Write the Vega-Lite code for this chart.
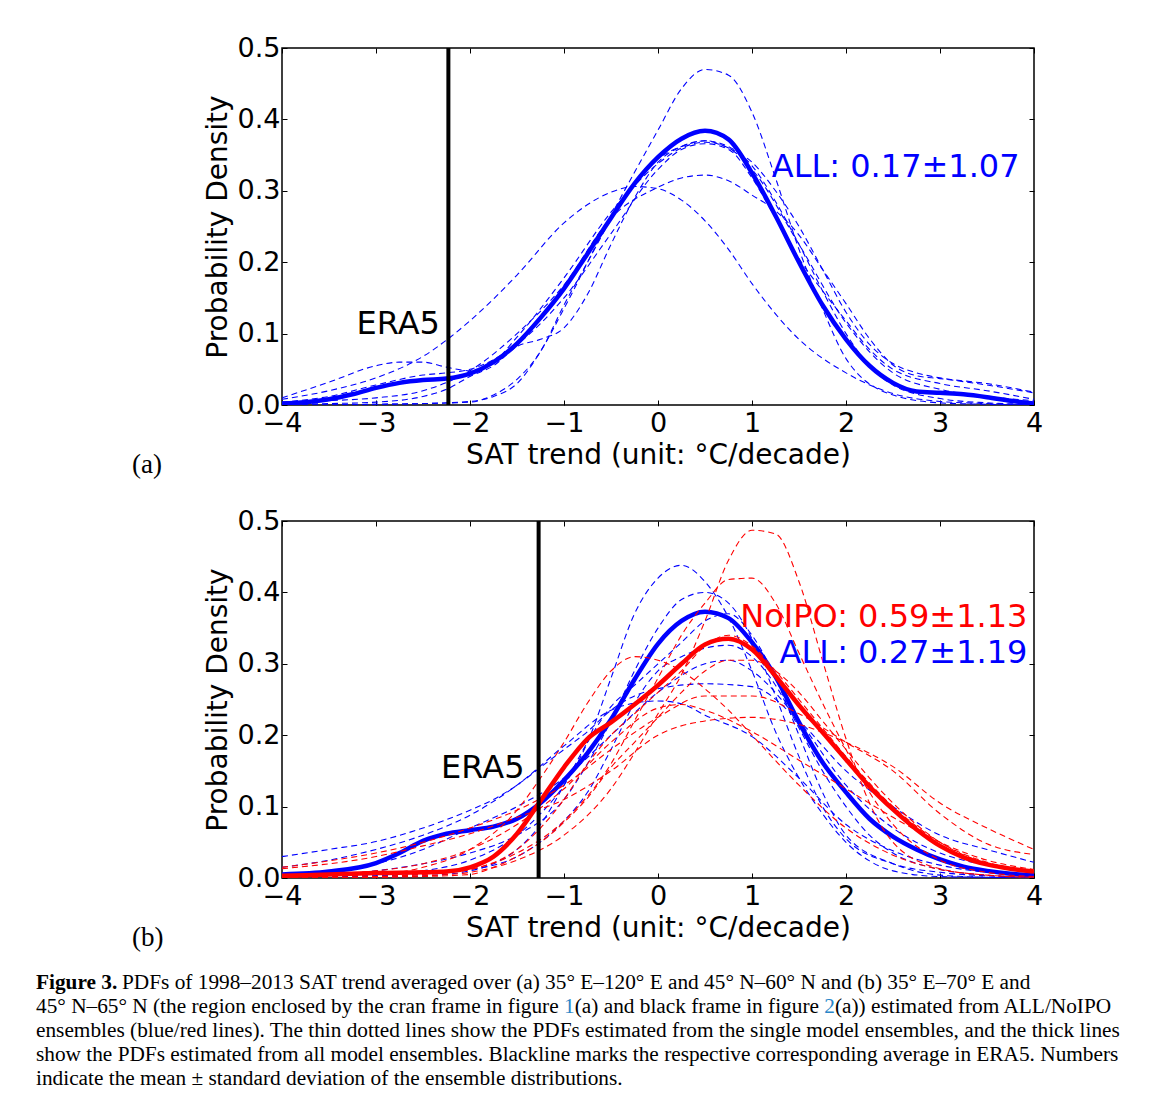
{
"$schema": "https://vega.github.io/schema/vega-lite/v6.json",
"background": "white",
"padding": {"left": 36, "top": 33, "right": 5, "bottom": 5},
"spacing": 18,
"config": {
  "view": {"stroke": "black", "strokeWidth": 1.5},
  "axis": {"domain": false, "grid": false, "ticks": true, "tickColor": "black", "tickWidth": 1, "tickSize": -5,
           "labelFont": "DejaVu Sans", "labelFontSize": 27, "labelColor": "black", "labelFlush": false, "labelOverlap": false,
           "titleFont": "DejaVu Sans", "titleFontSize": 28, "titleFontWeight": "normal", "titleColor": "black", "titlePadding": 5}
},
"datasets": {
"a_thin": [
{"c":"A1","x":-4,"y":0},{"c":"A1","x":-3.5,"y":0},{"c":"A1","x":-3,"y":0.001},{"c":"A1","x":-2.5,"y":0.002},{"c":"A1","x":-2,"y":0.005},{"c":"A1","x":-1.75,"y":0.012},{"c":"A1","x":-1.5,"y":0.03},{"c":"A1","x":-1.25,"y":0.075},{"c":"A1","x":-1,"y":0.135},{"c":"A1","x":-0.5,"y":0.265},{"c":"A1","x":0,"y":0.385},{"c":"A1","x":0.25,"y":0.443},{"c":"A1","x":0.5,"y":0.47},{"c":"A1","x":0.75,"y":0.462},{"c":"A1","x":1,"y":0.41},{"c":"A1","x":1.25,"y":0.318},{"c":"A1","x":1.5,"y":0.218},{"c":"A1","x":1.75,"y":0.135},{"c":"A1","x":2,"y":0.065},{"c":"A1","x":2.5,"y":0.014},{"c":"A1","x":3,"y":0.003},{"c":"A1","x":3.5,"y":0.001},{"c":"A1","x":4,"y":0},
{"c":"A2","x":-4,"y":0.008},{"c":"A2","x":-3.5,"y":0.02},{"c":"A2","x":-3,"y":0.038},{"c":"A2","x":-2.5,"y":0.068},{"c":"A2","x":-2,"y":0.118},{"c":"A2","x":-1.5,"y":0.182},{"c":"A2","x":-1,"y":0.255},{"c":"A2","x":-0.5,"y":0.298},{"c":"A2","x":-0.25,"y":0.306},{"c":"A2","x":0,"y":0.303},{"c":"A2","x":0.25,"y":0.287},{"c":"A2","x":0.5,"y":0.258},{"c":"A2","x":0.75,"y":0.218},{"c":"A2","x":1,"y":0.17},{"c":"A2","x":1.5,"y":0.092},{"c":"A2","x":2,"y":0.045},{"c":"A2","x":2.5,"y":0.016},{"c":"A2","x":3,"y":0.005},{"c":"A2","x":3.5,"y":0.002},{"c":"A2","x":4,"y":0},
{"c":"A3","x":-4,"y":0.003},{"c":"A3","x":-3.5,"y":0.006},{"c":"A3","x":-3,"y":0.01},{"c":"A3","x":-2.5,"y":0.02},{"c":"A3","x":-2,"y":0.048},{"c":"A3","x":-1.5,"y":0.1},{"c":"A3","x":-1,"y":0.168},{"c":"A3","x":-0.5,"y":0.262},{"c":"A3","x":0,"y":0.305},{"c":"A3","x":0.25,"y":0.318},{"c":"A3","x":0.5,"y":0.322},{"c":"A3","x":0.75,"y":0.314},{"c":"A3","x":1,"y":0.294},{"c":"A3","x":1.25,"y":0.272},{"c":"A3","x":1.5,"y":0.238},{"c":"A3","x":1.75,"y":0.19},{"c":"A3","x":2,"y":0.142},{"c":"A3","x":2.25,"y":0.093},{"c":"A3","x":2.5,"y":0.056},{"c":"A3","x":2.75,"y":0.041},{"c":"A3","x":3,"y":0.037},{"c":"A3","x":3.5,"y":0.028},{"c":"A3","x":4,"y":0.017},
{"c":"A4","x":-4,"y":0.01},{"c":"A4","x":-3.5,"y":0.032},{"c":"A4","x":-3,"y":0.055},{"c":"A4","x":-2.75,"y":0.06},{"c":"A4","x":-2.5,"y":0.06},{"c":"A4","x":-2.25,"y":0.053},{"c":"A4","x":-2,"y":0.048},{"c":"A4","x":-1.75,"y":0.06},{"c":"A4","x":-1.5,"y":0.095},{"c":"A4","x":-1,"y":0.178},{"c":"A4","x":-0.5,"y":0.27},{"c":"A4","x":0,"y":0.338},{"c":"A4","x":0.25,"y":0.36},{"c":"A4","x":0.5,"y":0.368},{"c":"A4","x":0.75,"y":0.36},{"c":"A4","x":1,"y":0.33},{"c":"A4","x":1.5,"y":0.225},{"c":"A4","x":2,"y":0.115},{"c":"A4","x":2.5,"y":0.045},{"c":"A4","x":3,"y":0.022},{"c":"A4","x":3.5,"y":0.012},{"c":"A4","x":4,"y":0.006},
{"c":"A5","x":-4,"y":0},{"c":"A5","x":-3,"y":0.001},{"c":"A5","x":-2.5,"y":0.002},{"c":"A5","x":-2,"y":0.004},{"c":"A5","x":-1.75,"y":0.014},{"c":"A5","x":-1.5,"y":0.036},{"c":"A5","x":-1.25,"y":0.075},{"c":"A5","x":-1,"y":0.14},{"c":"A5","x":-0.75,"y":0.2},{"c":"A5","x":-0.5,"y":0.26},{"c":"A5","x":-0.25,"y":0.31},{"c":"A5","x":0,"y":0.345},{"c":"A5","x":0.25,"y":0.362},{"c":"A5","x":0.5,"y":0.37},{"c":"A5","x":0.75,"y":0.362},{"c":"A5","x":1,"y":0.335},{"c":"A5","x":1.25,"y":0.285},{"c":"A5","x":1.5,"y":0.225},{"c":"A5","x":1.75,"y":0.16},{"c":"A5","x":2,"y":0.1},{"c":"A5","x":2.25,"y":0.055},{"c":"A5","x":2.5,"y":0.028},{"c":"A5","x":3,"y":0.009},{"c":"A5","x":3.5,"y":0.003},{"c":"A5","x":4,"y":0.001},
{"c":"A6","x":-4,"y":0.001},{"c":"A6","x":-3.5,"y":0.002},{"c":"A6","x":-3,"y":0.004},{"c":"A6","x":-2.5,"y":0.012},{"c":"A6","x":-2.25,"y":0.022},{"c":"A6","x":-2,"y":0.04},{"c":"A6","x":-1.75,"y":0.055},{"c":"A6","x":-1.5,"y":0.082},{"c":"A6","x":-1.25,"y":0.092},{"c":"A6","x":-1,"y":0.108},{"c":"A6","x":-0.75,"y":0.155},{"c":"A6","x":-0.5,"y":0.225},{"c":"A6","x":-0.25,"y":0.29},{"c":"A6","x":0,"y":0.34},{"c":"A6","x":0.25,"y":0.362},{"c":"A6","x":0.5,"y":0.37},{"c":"A6","x":0.75,"y":0.36},{"c":"A6","x":1,"y":0.34},{"c":"A6","x":1.25,"y":0.3},{"c":"A6","x":1.5,"y":0.25},{"c":"A6","x":1.75,"y":0.19},{"c":"A6","x":2,"y":0.13},{"c":"A6","x":2.25,"y":0.085},{"c":"A6","x":2.5,"y":0.058},{"c":"A6","x":2.75,"y":0.045},{"c":"A6","x":3,"y":0.038},{"c":"A6","x":3.5,"y":0.03},{"c":"A6","x":4,"y":0.018},
{"c":"A7","x":-4,"y":0.004},{"c":"A7","x":-3.5,"y":0.012},{"c":"A7","x":-3,"y":0.028},{"c":"A7","x":-2.5,"y":0.042},{"c":"A7","x":-2.25,"y":0.045},{"c":"A7","x":-2,"y":0.05},{"c":"A7","x":-1.5,"y":0.085},{"c":"A7","x":-1,"y":0.15},{"c":"A7","x":-0.5,"y":0.24},{"c":"A7","x":0,"y":0.33},{"c":"A7","x":0.25,"y":0.358},{"c":"A7","x":0.5,"y":0.366},{"c":"A7","x":0.75,"y":0.358},{"c":"A7","x":1,"y":0.318},{"c":"A7","x":1.25,"y":0.262},{"c":"A7","x":1.5,"y":0.205},{"c":"A7","x":1.75,"y":0.16},{"c":"A7","x":2,"y":0.118},{"c":"A7","x":2.25,"y":0.078},{"c":"A7","x":2.5,"y":0.05},{"c":"A7","x":3,"y":0.03},{"c":"A7","x":3.5,"y":0.02},{"c":"A7","x":4,"y":0.008}
],
"a_thick": [
{"x":-4,"y":0.002},{"x":-3.75,"y":0.004},{"x":-3.5,"y":0.008},{"x":-3.25,"y":0.015},{"x":-3,"y":0.024},{"x":-2.75,"y":0.031},{"x":-2.5,"y":0.035},{"x":-2.25,"y":0.037},{"x":-2,"y":0.044},{"x":-1.75,"y":0.06},{"x":-1.5,"y":0.086},{"x":-1.25,"y":0.122},{"x":-1,"y":0.163},{"x":-0.75,"y":0.212},{"x":-0.5,"y":0.262},{"x":-0.25,"y":0.31},{"x":0,"y":0.347},{"x":0.25,"y":0.373},{"x":0.5,"y":0.384},{"x":0.75,"y":0.372},{"x":1,"y":0.325},{"x":1.25,"y":0.265},{"x":1.5,"y":0.2},{"x":1.75,"y":0.14},{"x":2,"y":0.092},{"x":2.25,"y":0.055},{"x":2.5,"y":0.031},{"x":2.75,"y":0.019},{"x":3,"y":0.017},{"x":3.25,"y":0.015},{"x":3.5,"y":0.011},{"x":3.75,"y":0.006},{"x":4,"y":0.002}
],
"b_blue_thin": [
{"c":"B1","x":-4,"y":0.001},{"c":"B1","x":-3,"y":0.004},{"c":"B1","x":-2.5,"y":0.01},{"c":"B1","x":-2,"y":0.025},{"c":"B1","x":-1.5,"y":0.06},{"c":"B1","x":-1.25,"y":0.09},{"c":"B1","x":-1,"y":0.13},{"c":"B1","x":-0.75,"y":0.19},{"c":"B1","x":-0.5,"y":0.28},{"c":"B1","x":-0.25,"y":0.37},{"c":"B1","x":0,"y":0.42},{"c":"B1","x":0.25,"y":0.438},{"c":"B1","x":0.5,"y":0.415},{"c":"B1","x":0.75,"y":0.365},{"c":"B1","x":1,"y":0.29},{"c":"B1","x":1.25,"y":0.205},{"c":"B1","x":1.5,"y":0.14},{"c":"B1","x":1.75,"y":0.09},{"c":"B1","x":2,"y":0.05},{"c":"B1","x":2.25,"y":0.024},{"c":"B1","x":2.5,"y":0.01},{"c":"B1","x":3,"y":0.002},{"c":"B1","x":3.5,"y":0.001},{"c":"B1","x":4,"y":0},
{"c":"B2","x":-4,"y":0.002},{"c":"B2","x":-3,"y":0.01},{"c":"B2","x":-2.5,"y":0.02},{"c":"B2","x":-2,"y":0.035},{"c":"B2","x":-1.5,"y":0.06},{"c":"B2","x":-1,"y":0.11},{"c":"B2","x":-0.75,"y":0.16},{"c":"B2","x":-0.5,"y":0.22},{"c":"B2","x":-0.25,"y":0.29},{"c":"B2","x":0,"y":0.35},{"c":"B2","x":0.25,"y":0.39},{"c":"B2","x":0.5,"y":0.4},{"c":"B2","x":0.75,"y":0.385},{"c":"B2","x":1,"y":0.335},{"c":"B2","x":1.25,"y":0.255},{"c":"B2","x":1.5,"y":0.17},{"c":"B2","x":1.75,"y":0.1},{"c":"B2","x":2,"y":0.055},{"c":"B2","x":2.5,"y":0.02},{"c":"B2","x":3,"y":0.008},{"c":"B2","x":3.5,"y":0.003},{"c":"B2","x":4,"y":0.001},
{"c":"B3","x":-4,"y":0.001},{"c":"B3","x":-3,"y":0.003},{"c":"B3","x":-2,"y":0.012},{"c":"B3","x":-1.5,"y":0.03},{"c":"B3","x":-1,"y":0.08},{"c":"B3","x":-0.75,"y":0.12},{"c":"B3","x":-0.5,"y":0.18},{"c":"B3","x":-0.25,"y":0.245},{"c":"B3","x":0,"y":0.29},{"c":"B3","x":0.25,"y":0.31},{"c":"B3","x":0.5,"y":0.322},{"c":"B3","x":0.75,"y":0.326},{"c":"B3","x":1,"y":0.31},{"c":"B3","x":1.25,"y":0.27},{"c":"B3","x":1.5,"y":0.21},{"c":"B3","x":1.75,"y":0.15},{"c":"B3","x":2,"y":0.1},{"c":"B3","x":2.25,"y":0.06},{"c":"B3","x":2.5,"y":0.035},{"c":"B3","x":3,"y":0.012},{"c":"B3","x":3.5,"y":0.004},{"c":"B3","x":4,"y":0.001},
{"c":"B4","x":-4,"y":0.03},{"c":"B4","x":-3.5,"y":0.04},{"c":"B4","x":-3,"y":0.051},{"c":"B4","x":-2.5,"y":0.07},{"c":"B4","x":-2,"y":0.095},{"c":"B4","x":-1.75,"y":0.11},{"c":"B4","x":-1.5,"y":0.13},{"c":"B4","x":-1.25,"y":0.155},{"c":"B4","x":-1,"y":0.18},{"c":"B4","x":-0.75,"y":0.205},{"c":"B4","x":-0.5,"y":0.235},{"c":"B4","x":-0.25,"y":0.255},{"c":"B4","x":0,"y":0.265},{"c":"B4","x":0.5,"y":0.272},{"c":"B4","x":1,"y":0.268},{"c":"B4","x":1.5,"y":0.22},{"c":"B4","x":2,"y":0.15},{"c":"B4","x":2.5,"y":0.1},{"c":"B4","x":3,"y":0.06},{"c":"B4","x":3.5,"y":0.04},{"c":"B4","x":4,"y":0.022},
{"c":"B5","x":-4,"y":0.015},{"c":"B5","x":-3.5,"y":0.025},{"c":"B5","x":-3,"y":0.04},{"c":"B5","x":-2.5,"y":0.06},{"c":"B5","x":-2,"y":0.088},{"c":"B5","x":-1.5,"y":0.13},{"c":"B5","x":-1,"y":0.185},{"c":"B5","x":-0.5,"y":0.235},{"c":"B5","x":-0.25,"y":0.245},{"c":"B5","x":0,"y":0.248},{"c":"B5","x":0.25,"y":0.244},{"c":"B5","x":0.5,"y":0.228},{"c":"B5","x":1,"y":0.198},{"c":"B5","x":1.5,"y":0.14},{"c":"B5","x":2,"y":0.075},{"c":"B5","x":2.5,"y":0.038},{"c":"B5","x":3,"y":0.018},{"c":"B5","x":3.5,"y":0.008},{"c":"B5","x":4,"y":0.004},
{"c":"B6","x":-4,"y":0},{"c":"B6","x":-3,"y":0.001},{"c":"B6","x":-2.5,"y":0.003},{"c":"B6","x":-2,"y":0.01},{"c":"B6","x":-1.75,"y":0.02},{"c":"B6","x":-1.5,"y":0.04},{"c":"B6","x":-1.25,"y":0.075},{"c":"B6","x":-1,"y":0.13},{"c":"B6","x":-0.75,"y":0.19},{"c":"B6","x":-0.5,"y":0.24},{"c":"B6","x":-0.25,"y":0.27},{"c":"B6","x":0,"y":0.3},{"c":"B6","x":0.25,"y":0.33},{"c":"B6","x":0.5,"y":0.36},{"c":"B6","x":0.75,"y":0.37},{"c":"B6","x":1,"y":0.34},{"c":"B6","x":1.25,"y":0.28},{"c":"B6","x":1.5,"y":0.2},{"c":"B6","x":1.75,"y":0.12},{"c":"B6","x":2,"y":0.06},{"c":"B6","x":2.5,"y":0.02},{"c":"B6","x":3,"y":0.004},{"c":"B6","x":3.5,"y":0.001},{"c":"B6","x":4,"y":0},
{"c":"B7","x":-4,"y":0.005},{"c":"B7","x":-3,"y":0.02},{"c":"B7","x":-2.5,"y":0.04},{"c":"B7","x":-2,"y":0.07},{"c":"B7","x":-1.5,"y":0.1},{"c":"B7","x":-1,"y":0.14},{"c":"B7","x":-0.5,"y":0.2},{"c":"B7","x":0,"y":0.26},{"c":"B7","x":0.5,"y":0.3},{"c":"B7","x":0.75,"y":0.305},{"c":"B7","x":1,"y":0.29},{"c":"B7","x":1.5,"y":0.22},{"c":"B7","x":2,"y":0.13},{"c":"B7","x":2.5,"y":0.07},{"c":"B7","x":3,"y":0.035},{"c":"B7","x":3.5,"y":0.018},{"c":"B7","x":4,"y":0.008}
],
"b_red_thin": [
{"c":"R1","x":-4,"y":0},{"c":"R1","x":-3,"y":0.001},{"c":"R1","x":-2.5,"y":0.003},{"c":"R1","x":-2,"y":0.008},{"c":"R1","x":-1.5,"y":0.025},{"c":"R1","x":-1,"y":0.06},{"c":"R1","x":-0.5,"y":0.125},{"c":"R1","x":-0.25,"y":0.175},{"c":"R1","x":0,"y":0.23},{"c":"R1","x":0.25,"y":0.285},{"c":"R1","x":0.5,"y":0.36},{"c":"R1","x":0.75,"y":0.445},{"c":"R1","x":1,"y":0.487},{"c":"R1","x":1.25,"y":0.482},{"c":"R1","x":1.5,"y":0.415},{"c":"R1","x":1.75,"y":0.305},{"c":"R1","x":2,"y":0.195},{"c":"R1","x":2.25,"y":0.105},{"c":"R1","x":2.5,"y":0.05},{"c":"R1","x":3,"y":0.013},{"c":"R1","x":3.5,"y":0.004},{"c":"R1","x":4,"y":0.001},
{"c":"R2","x":-4,"y":0},{"c":"R2","x":-3,"y":0.002},{"c":"R2","x":-2.5,"y":0.005},{"c":"R2","x":-2,"y":0.012},{"c":"R2","x":-1.5,"y":0.035},{"c":"R2","x":-1,"y":0.08},{"c":"R2","x":-0.5,"y":0.16},{"c":"R2","x":-0.25,"y":0.22},{"c":"R2","x":0,"y":0.28},{"c":"R2","x":0.25,"y":0.34},{"c":"R2","x":0.5,"y":0.385},{"c":"R2","x":0.75,"y":0.418},{"c":"R2","x":1,"y":0.42},{"c":"R2","x":1.25,"y":0.385},{"c":"R2","x":1.5,"y":0.315},{"c":"R2","x":1.75,"y":0.245},{"c":"R2","x":2,"y":0.18},{"c":"R2","x":2.25,"y":0.12},{"c":"R2","x":2.5,"y":0.075},{"c":"R2","x":3,"y":0.025},{"c":"R2","x":3.5,"y":0.008},{"c":"R2","x":4,"y":0.002},
{"c":"R3","x":-4,"y":0.001},{"c":"R3","x":-3,"y":0.005},{"c":"R3","x":-2.5,"y":0.015},{"c":"R3","x":-2,"y":0.04},{"c":"R3","x":-1.5,"y":0.095},{"c":"R3","x":-1.25,"y":0.14},{"c":"R3","x":-1,"y":0.19},{"c":"R3","x":-0.75,"y":0.245},{"c":"R3","x":-0.5,"y":0.29},{"c":"R3","x":-0.25,"y":0.31},{"c":"R3","x":0,"y":0.305},{"c":"R3","x":0.25,"y":0.29},{"c":"R3","x":0.5,"y":0.265},{"c":"R3","x":0.75,"y":0.235},{"c":"R3","x":1,"y":0.2},{"c":"R3","x":1.5,"y":0.13},{"c":"R3","x":2,"y":0.07},{"c":"R3","x":2.5,"y":0.032},{"c":"R3","x":3,"y":0.012},{"c":"R3","x":3.5,"y":0.004},{"c":"R3","x":4,"y":0.001},
{"c":"R4","x":-4,"y":0.015},{"c":"R4","x":-3.5,"y":0.024},{"c":"R4","x":-3,"y":0.035},{"c":"R4","x":-2.5,"y":0.05},{"c":"R4","x":-2,"y":0.07},{"c":"R4","x":-1.5,"y":0.095},{"c":"R4","x":-1,"y":0.13},{"c":"R4","x":-0.5,"y":0.18},{"c":"R4","x":0,"y":0.225},{"c":"R4","x":0.5,"y":0.255},{"c":"R4","x":1,"y":0.255},{"c":"R4","x":1.5,"y":0.23},{"c":"R4","x":2,"y":0.19},{"c":"R4","x":2.5,"y":0.15},{"c":"R4","x":3,"y":0.09},{"c":"R4","x":3.5,"y":0.048},{"c":"R4","x":4,"y":0.033},
{"c":"R5","x":-4,"y":0.003},{"c":"R5","x":-3,"y":0.01},{"c":"R5","x":-2.5,"y":0.02},{"c":"R5","x":-2,"y":0.04},{"c":"R5","x":-1.5,"y":0.075},{"c":"R5","x":-1,"y":0.125},{"c":"R5","x":-0.5,"y":0.19},{"c":"R5","x":0,"y":0.238},{"c":"R5","x":0.25,"y":0.243},{"c":"R5","x":0.5,"y":0.235},{"c":"R5","x":1,"y":0.205},{"c":"R5","x":1.5,"y":0.165},{"c":"R5","x":2,"y":0.125},{"c":"R5","x":2.5,"y":0.085},{"c":"R5","x":3,"y":0.05},{"c":"R5","x":3.5,"y":0.025},{"c":"R5","x":4,"y":0.012},
{"c":"R6","x":-4,"y":0},{"c":"R6","x":-3,"y":0.002},{"c":"R6","x":-2.5,"y":0.005},{"c":"R6","x":-2,"y":0.012},{"c":"R6","x":-1.5,"y":0.04},{"c":"R6","x":-1.25,"y":0.07},{"c":"R6","x":-1,"y":0.11},{"c":"R6","x":-0.75,"y":0.16},{"c":"R6","x":-0.5,"y":0.2},{"c":"R6","x":-0.25,"y":0.23},{"c":"R6","x":0,"y":0.26},{"c":"R6","x":0.25,"y":0.29},{"c":"R6","x":0.5,"y":0.325},{"c":"R6","x":0.75,"y":0.34},{"c":"R6","x":1,"y":0.325},{"c":"R6","x":1.25,"y":0.29},{"c":"R6","x":1.5,"y":0.25},{"c":"R6","x":1.75,"y":0.21},{"c":"R6","x":2,"y":0.17},{"c":"R6","x":2.5,"y":0.1},{"c":"R6","x":3,"y":0.05},{"c":"R6","x":3.5,"y":0.022},{"c":"R6","x":4,"y":0.01},
{"c":"R7","x":-4,"y":0},{"c":"R7","x":-3,"y":0.001},{"c":"R7","x":-2.5,"y":0.002},{"c":"R7","x":-2,"y":0.005},{"c":"R7","x":-1.75,"y":0.015},{"c":"R7","x":-1.5,"y":0.03},{"c":"R7","x":-1.25,"y":0.05},{"c":"R7","x":-1,"y":0.078},{"c":"R7","x":-0.75,"y":0.112},{"c":"R7","x":-0.5,"y":0.155},{"c":"R7","x":-0.25,"y":0.19},{"c":"R7","x":0,"y":0.225},{"c":"R7","x":0.25,"y":0.26},{"c":"R7","x":0.5,"y":0.29},{"c":"R7","x":0.75,"y":0.305},{"c":"R7","x":1,"y":0.305},{"c":"R7","x":1.25,"y":0.29},{"c":"R7","x":1.5,"y":0.26},{"c":"R7","x":1.75,"y":0.22},{"c":"R7","x":2,"y":0.18},{"c":"R7","x":2.25,"y":0.14},{"c":"R7","x":2.5,"y":0.105},{"c":"R7","x":3,"y":0.05},{"c":"R7","x":3.5,"y":0.02},{"c":"R7","x":4,"y":0.007},
{"c":"R8","x":-4,"y":0.013},{"c":"R8","x":-3,"y":0.03},{"c":"R8","x":-2.5,"y":0.045},{"c":"R8","x":-2,"y":0.062},{"c":"R8","x":-1.5,"y":0.085},{"c":"R8","x":-1,"y":0.11},{"c":"R8","x":-0.5,"y":0.15},{"c":"R8","x":0,"y":0.2},{"c":"R8","x":0.5,"y":0.22},{"c":"R8","x":1,"y":0.225},{"c":"R8","x":1.5,"y":0.215},{"c":"R8","x":2,"y":0.19},{"c":"R8","x":2.5,"y":0.156},{"c":"R8","x":3,"y":0.105},{"c":"R8","x":3.5,"y":0.07},{"c":"R8","x":4,"y":0.04}
],
"b_blue_thick": [
{"x":-4,"y":0.005},{"x":-3.5,"y":0.009},{"x":-3,"y":0.021},{"x":-2.75,"y":0.035},{"x":-2.5,"y":0.052},{"x":-2.25,"y":0.062},{"x":-2,"y":0.067},{"x":-1.75,"y":0.072},{"x":-1.5,"y":0.083},{"x":-1.25,"y":0.105},{"x":-1,"y":0.137},{"x":-0.75,"y":0.175},{"x":-0.5,"y":0.222},{"x":-0.25,"y":0.278},{"x":0,"y":0.328},{"x":0.25,"y":0.36},{"x":0.5,"y":0.373},{"x":0.75,"y":0.364},{"x":1,"y":0.33},{"x":1.25,"y":0.282},{"x":1.5,"y":0.218},{"x":1.75,"y":0.162},{"x":2,"y":0.12},{"x":2.25,"y":0.083},{"x":2.5,"y":0.058},{"x":2.75,"y":0.04},{"x":3,"y":0.026},{"x":3.25,"y":0.016},{"x":3.5,"y":0.01},{"x":3.75,"y":0.006},{"x":4,"y":0.004}
],
"b_red_thick": [
{"x":-4,"y":0.003},{"x":-3.5,"y":0.005},{"x":-3,"y":0.007},{"x":-2.5,"y":0.008},{"x":-2.25,"y":0.009},{"x":-2,"y":0.015},{"x":-1.75,"y":0.03},{"x":-1.5,"y":0.062},{"x":-1.25,"y":0.108},{"x":-1,"y":0.155},{"x":-0.75,"y":0.195},{"x":-0.5,"y":0.218},{"x":-0.25,"y":0.243},{"x":0,"y":0.27},{"x":0.25,"y":0.3},{"x":0.5,"y":0.327},{"x":0.75,"y":0.335},{"x":1,"y":0.32},{"x":1.25,"y":0.283},{"x":1.5,"y":0.242},{"x":1.75,"y":0.204},{"x":2,"y":0.166},{"x":2.25,"y":0.128},{"x":2.5,"y":0.096},{"x":2.75,"y":0.068},{"x":3,"y":0.045},{"x":3.25,"y":0.029},{"x":3.5,"y":0.019},{"x":3.75,"y":0.013},{"x":4,"y":0.009}
],
"caption": [
{"i":1,"s":"b","t":"Figure 3."},
{"i":1,"s":"r","t":"PDFs of 1998–2013 SAT trend averaged over (a) 35° E–120° E and 45° N–60° N and (b) 35° E–70° E and"},
{"i":2,"s":"a","t":"45° N–65° N (the region enclosed by the cran frame in figure"},
{"i":2,"s":"l1","t":"1"},
{"i":2,"s":"c","t":"(a) and black frame in figure"},
{"i":2,"s":"l2","t":"2"},
{"i":2,"s":"d","t":"(a)) estimated from ALL/NoIPO"},
{"i":3,"s":"a","t":"ensembles (blue/red lines). The thin dotted lines show the PDFs estimated from the single model ensembles, and the thick lines"},
{"i":4,"s":"a","t":"show the PDFs estimated from all model ensembles. Blackline marks the respective corresponding average in ERA5. Numbers"},
{"i":5,"s":"a","t":"indicate the mean ± standard deviation of the ensemble distributions."}
]
},
"vconcat": [
{
  "width": 752, "height": 357,
  "title": {"text": "(a)", "subtitle": " ", "orient": "bottom", "anchor": "start", "frame": "group", "dx": -150, "dy": -17, "offset": 0, "font": "Liberation Serif", "fontSize": 27, "fontWeight": "normal", "color": "black", "subtitleFont": "Liberation Serif", "subtitleFontSize": 8, "subtitlePadding": 0},
  "layer": [
    {"data": {"name": "a_thin"},
     "mark": {"type": "line", "color": "#0000ff", "strokeWidth": 1.1, "strokeDash": [6, 4], "interpolate": "monotone", "clip": true},
     "encoding": {
       "x": {"field": "x", "type": "quantitative", "scale": {"domain": [-4, 4], "nice": false, "zero": false},
             "axis": {"orient": "bottom", "values": [-4, -3, -2, -1, 0, 1, 2, 3, 4], "format": "d", "labelPadding": 10, "title": "SAT trend (unit:  °C/decade)"}},
       "y": {"field": "y", "type": "quantitative", "scale": {"domain": [0, 0.5], "nice": false},
             "axis": {"orient": "left", "values": [0, 0.1, 0.2, 0.3, 0.4, 0.5], "format": ".1f", "labelPadding": 7, "title": "Probability Density"}},
       "detail": {"field": "c"}}},
    {"data": {"name": "a_thick"},
     "mark": {"type": "line", "color": "#0000ff", "strokeWidth": 4.5, "interpolate": "monotone", "clip": true},
     "encoding": {"x": {"field": "x", "type": "quantitative", "axis": null}, "y": {"field": "y", "type": "quantitative", "axis": null}}},
    {"data": {"values": [{"x": -2.23}]},
     "mark": {"type": "rule", "color": "black", "strokeWidth": 4},
     "encoding": {"x": {"field": "x", "type": "quantitative", "axis": null}}},
    {"data": {"values": [{"x": -2.32, "y": 0.1, "t": "ERA5"}]},
     "mark": {"type": "text", "align": "right", "baseline": "alphabetic", "font": "DejaVu Sans", "fontSize": 32, "color": "black"},
     "encoding": {"x": {"field": "x", "type": "quantitative", "axis": null}, "y": {"field": "y", "type": "quantitative", "axis": null}, "text": {"field": "t"}}},
    {"data": {"values": [{"x": 1.21, "y": 0.32, "t": "ALL: 0.17±1.07"}]},
     "mark": {"type": "text", "align": "left", "baseline": "alphabetic", "font": "DejaVu Sans", "fontSize": 32, "color": "#0000ff"},
     "encoding": {"x": {"field": "x", "type": "quantitative", "axis": null}, "y": {"field": "y", "type": "quantitative", "axis": null}, "text": {"field": "t"}}},
    {"data": {"values": [{"x": 0, "y": 0}]},
     "mark": {"type": "point", "opacity": 0},
     "encoding": {
       "x": {"field": "x", "type": "quantitative", "axis": {"orient": "top", "values": [-4, -3, -2, -1, 0, 1, 2, 3, 4], "labels": false, "title": null}},
       "y": {"field": "y", "type": "quantitative", "axis": {"orient": "right", "values": [0, 0.1, 0.2, 0.3, 0.4, 0.5], "labels": false, "title": null}}}}
  ],
  "resolve": {"axis": {"x": "independent", "y": "independent"}}
},
{
  "width": 752, "height": 357,
  "title": {"text": "(b)", "orient": "bottom", "anchor": "start", "frame": "group", "dx": -150, "dy": -17, "offset": 0, "font": "Liberation Serif", "fontSize": 27, "fontWeight": "normal", "color": "black"},
  "layer": [
    {"data": {"name": "b_blue_thin"},
     "mark": {"type": "line", "color": "#0000ff", "strokeWidth": 1.1, "strokeDash": [6, 4], "interpolate": "monotone", "clip": true},
     "encoding": {
       "x": {"field": "x", "type": "quantitative", "scale": {"domain": [-4, 4], "nice": false, "zero": false},
             "axis": {"orient": "bottom", "values": [-4, -3, -2, -1, 0, 1, 2, 3, 4], "format": "d", "labelPadding": 10, "title": "SAT trend (unit:  °C/decade)"}},
       "y": {"field": "y", "type": "quantitative", "scale": {"domain": [0, 0.5], "nice": false},
             "axis": {"orient": "left", "values": [0, 0.1, 0.2, 0.3, 0.4, 0.5], "format": ".1f", "labelPadding": 7, "title": "Probability Density"}},
       "detail": {"field": "c"}}},
    {"data": {"name": "b_blue_thick"},
     "mark": {"type": "line", "color": "#0000ff", "strokeWidth": 4.5, "interpolate": "monotone", "clip": true},
     "encoding": {"x": {"field": "x", "type": "quantitative", "axis": null}, "y": {"field": "y", "type": "quantitative", "axis": null}}},
    {"data": {"name": "b_red_thin"},
     "mark": {"type": "line", "color": "#ff0000", "strokeWidth": 1.1, "strokeDash": [6, 4], "interpolate": "monotone", "clip": true},
     "encoding": {"x": {"field": "x", "type": "quantitative", "axis": null}, "y": {"field": "y", "type": "quantitative", "axis": null}, "detail": {"field": "c"}}},
    {"data": {"name": "b_red_thick"},
     "mark": {"type": "line", "color": "#ff0000", "strokeWidth": 4.5, "interpolate": "monotone", "clip": true},
     "encoding": {"x": {"field": "x", "type": "quantitative", "axis": null}, "y": {"field": "y", "type": "quantitative", "axis": null}}},
    {"data": {"values": [{"x": -1.27}]},
     "mark": {"type": "rule", "color": "black", "strokeWidth": 4},
     "encoding": {"x": {"field": "x", "type": "quantitative", "axis": null}}},
    {"data": {"values": [{"x": -1.42, "y": 0.14, "t": "ERA5"}]},
     "mark": {"type": "text", "align": "right", "baseline": "alphabetic", "font": "DejaVu Sans", "fontSize": 32, "color": "black"},
     "encoding": {"x": {"field": "x", "type": "quantitative", "axis": null}, "y": {"field": "y", "type": "quantitative", "axis": null}, "text": {"field": "t"}}},
    {"data": {"values": [{"x": 3.93, "y": 0.351, "t": "NoIPO: 0.59±1.13"}]},
     "mark": {"type": "text", "align": "right", "baseline": "alphabetic", "font": "DejaVu Sans", "fontSize": 32, "color": "#ff0000"},
     "encoding": {"x": {"field": "x", "type": "quantitative", "axis": null}, "y": {"field": "y", "type": "quantitative", "axis": null}, "text": {"field": "t"}}},
    {"data": {"values": [{"x": 3.93, "y": 0.301, "t": "ALL: 0.27±1.19"}]},
     "mark": {"type": "text", "align": "right", "baseline": "alphabetic", "font": "DejaVu Sans", "fontSize": 32, "color": "#0000ff"},
     "encoding": {"x": {"field": "x", "type": "quantitative", "axis": null}, "y": {"field": "y", "type": "quantitative", "axis": null}, "text": {"field": "t"}}},
    {"data": {"values": [{"x": 0, "y": 0}]},
     "mark": {"type": "point", "opacity": 0},
     "encoding": {
       "x": {"field": "x", "type": "quantitative", "axis": {"orient": "top", "values": [-4, -3, -2, -1, 0, 1, 2, 3, 4], "labels": false, "title": null}},
       "y": {"field": "y", "type": "quantitative", "axis": {"orient": "right", "values": [0, 0.1, 0.2, 0.3, 0.4, 0.5], "labels": false, "title": null}}}}
  ],
  "resolve": {"axis": {"x": "independent", "y": "independent"}}
},
{
  "width": 752, "height": 120,
  "view": {"stroke": null},
  "data": {"name": "caption"},
  "encoding": {
    "x": {"datum": 0, "type": "quantitative", "scale": {"domain": [0, 1]}, "axis": null},
    "y": {"field": "i", "type": "quantitative", "scale": {"domain": [5.458, 0.458], "nice": false, "zero": false}, "axis": null},
    "text": {"field": "t"}
  },
  "layer": [
    {"transform": [{"filter": "datum.s == 'a'"}],
     "mark": {"type": "text", "align": "left", "baseline": "middle", "font": "Liberation Serif", "fontSize": 21.3, "color": "black", "dx": -246}},
    {"transform": [{"filter": "datum.s == 'b'"}],
     "mark": {"type": "text", "align": "left", "baseline": "middle", "font": "Liberation Serif", "fontSize": 21.3, "fontWeight": "bold", "color": "black", "dx": -246}},
    {"transform": [{"filter": "datum.s == 'r'"}],
     "mark": {"type": "text", "align": "left", "baseline": "middle", "font": "Liberation Serif", "fontSize": 21.3, "color": "black", "dx": -160}},
    {"transform": [{"filter": "datum.s == 'l1'"}],
     "mark": {"type": "text", "align": "left", "baseline": "middle", "font": "Liberation Serif", "fontSize": 21.3, "color": "#2a86c8", "dx": 282.1}},
    {"transform": [{"filter": "datum.s == 'c'"}],
     "mark": {"type": "text", "align": "left", "baseline": "middle", "font": "Liberation Serif", "fontSize": 21.3, "color": "black", "dx": 292.75}},
    {"transform": [{"filter": "datum.s == 'l2'"}],
     "mark": {"type": "text", "align": "left", "baseline": "middle", "font": "Liberation Serif", "fontSize": 21.3, "color": "#2a86c8", "dx": 542.3}},
    {"transform": [{"filter": "datum.s == 'd'"}],
     "mark": {"type": "text", "align": "left", "baseline": "middle", "font": "Liberation Serif", "fontSize": 21.3, "color": "black", "dx": 552.95}}
  ]
}
]
}
